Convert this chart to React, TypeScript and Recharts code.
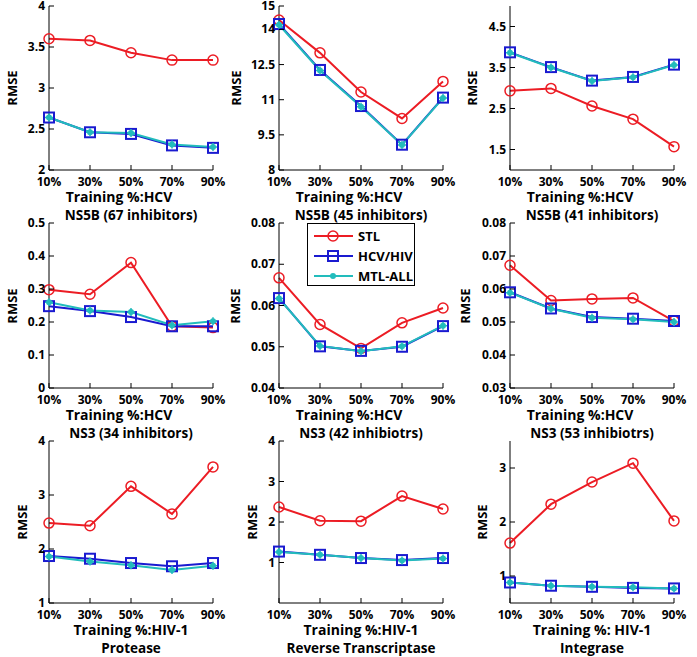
import { LineChart, Line, XAxis, YAxis } from 'recharts';

// training fraction on every x axis
const trainingPct = [10, 30, 50, 70, 90];

// one row per panel, read left→right, top→bottom
const stlRmse = [
  [3.6, 3.58, 3.43, 3.34, 3.34],
  [14.4, 13.0, 11.33, 10.2, 11.78],
  [2.93, 2.99, 2.56, 2.24, 1.57],
  [0.298, 0.284, 0.38, 0.187, 0.183],
  [0.0667, 0.0554, 0.0496, 0.0558, 0.0594],
  [0.0672, 0.0565, 0.057, 0.0573, 0.0503],
  [2.48, 2.43, 3.16, 2.65, 3.52],
  [2.37, 2.03, 2.02, 2.64, 2.32],
  [1.61, 2.33, 2.74, 3.09, 2.02],
];
const hcvHivRmse = [
  [2.64, 2.46, 2.44, 2.3, 2.27],
  [14.23, 12.27, 10.73, 9.08, 11.09],
  [3.87, 3.51, 3.18, 3.27, 3.57],
  [0.248, 0.233, 0.215, 0.187, 0.187],
  [0.0618, 0.0501, 0.049, 0.05, 0.055],
  [0.059, 0.0541, 0.0515, 0.051, 0.0503],
  [1.87, 1.82, 1.74, 1.68, 1.74],
  [1.27, 1.19, 1.11, 1.06, 1.11],
  [0.88, 0.82, 0.8, 0.78, 0.77],
];
const mtlAllRmse = [
  [2.64, 2.46, 2.45, 2.31, 2.28],
  [14.2, 12.25, 10.7, 9.07, 11.07],
  [3.86, 3.5, 3.17, 3.26, 3.56],
  [0.26, 0.235, 0.23, 0.19, 0.202],
  [0.0617, 0.0502, 0.0489, 0.0501, 0.0551],
  [0.0589, 0.054, 0.0513, 0.0508, 0.05],
  [1.86, 1.77, 1.7, 1.61, 1.69],
  [1.26, 1.19, 1.11, 1.05, 1.1],
  [0.88, 0.82, 0.8, 0.79, 0.77],
];

const panelTitles = [
  'NS5B (67 inhibitors)', 'NS5B (45 inhibitors)', 'NS5B (41 inhibitors)',
  'NS3 (34 inhibitors)', 'NS3 (42 inhibiotrs)', 'NS3 (53 inhibiotrs)',
  'Protease', 'Reverse Transcriptase', 'Integrase',
];
const xAxisLabels = [
  'Training %:HCV', 'Training %:HCV', 'Training %:HCV',
  'Training %:HCV', 'Training %:HCV', 'Training %:HCV',
  'Training %:HIV-1', 'Training %:HIV-1', 'Training %: HIV-1',
];
const yDomains = [
  [2, 4], [8, 15], [1, 5],
  [0, 0.5], [0.04, 0.08], [0.03, 0.08],
  [1, 4], [0, 4], [0.5, 3.5],
];
const yTicks = [
  [2, 2.5, 3, 3.5, 4], [8, 9.5, 11, 12.5, 14, 15], [1.5, 2.5, 3.5, 4.5],
  [0, 0.1, 0.2, 0.3, 0.4, 0.5], [0.04, 0.05, 0.06, 0.07, 0.08], [0.03, 0.04, 0.05, 0.06, 0.07, 0.08],
  [1, 2, 3, 4], [1, 2, 3, 4], [1, 2, 3],
];

const COL_X = [49, 279, 510];
const ROW_Y = [6, 223, 441];
const ROW_H = [164, 165, 162];
const BOX_W = 164;
const YLABEL_GAP = [37, 43, 38, 37, 44, 45, 27, 27, 28];
const XLABEL_SHIFT = [-12, -12, -12, -12, -12, -12, 0, 0, 0];

const RED = '#ec1c24';
const BLUE = '#1a1ad0';
const CYAN = '#22bcbc';
const FONT = '"Open Sans", "DejaVu Sans", sans-serif';

const ML = 50, MT = 14, MR = 22, MB = 30;

const BottomTick = (p: any) => (
  <g>
    <line x1={p.x} x2={p.x} y1={p.y} y2={p.y - 5} stroke="#000" />
    <text x={p.x} y={p.y + 16} textAnchor="middle" fontSize={12} fontWeight={700} fill="#000" fontFamily={FONT}>
      {p.payload.value}%
    </text>
  </g>
);
const TopTick = (p: any) => <line x1={p.x} x2={p.x} y1={p.y} y2={p.y + 5} stroke="#000" />;
const LeftTick = (p: any) => (
  <g>
    <line x1={p.x} x2={p.x + 5} y1={p.y} y2={p.y} stroke="#000" />
    <text x={p.x - 4} y={p.y + 4} textAnchor="end" fontSize={12} fontWeight={700} fill="#000" fontFamily={FONT}>
      {p.payload.value}
    </text>
  </g>
);
const RightTick = (p: any) => <line x1={p.x} x2={p.x - 5} y1={p.y} y2={p.y} stroke="#000" />;

const SquareDot = (p: any) => (
  <rect key={`sq-${p.index}`} x={p.cx - 5} y={p.cy - 5} width={10} height={10} fill="none" stroke={BLUE} strokeWidth={2} />
);
const StarDot = (p: any) => (
  <g key={`st-${p.index}`}>
    <circle cx={p.cx} cy={p.cy} r={3} fill={CYAN} />
    <path d={`M${p.cx - 4},${p.cy}H${p.cx + 4}M${p.cx},${p.cy - 4}V${p.cy + 4}`} stroke={CYAN} strokeWidth={1.5} />
  </g>
);

const Panel = ({ k }: { k: number }) => {
  const col = k % 3;
  const row = Math.floor(k / 3);
  const bx = COL_X[col];
  const by = ROW_Y[row];
  const bh = ROW_H[row];
  const data = trainingPct.map((pct, i) => ({
    pct,
    stl: stlRmse[k][i],
    hcv: hcvHivRmse[k][i],
    mtl: mtlAllRmse[k][i],
  }));
  const textStyle: any = {
    position: 'absolute', fontFamily: FONT, fontWeight: 700, whiteSpace: 'nowrap', color: '#000',
    transform: 'translate(-50%, -50%)', lineHeight: 1,
  };
  return (
    <>
      <div style={{ position: 'absolute', left: bx - ML, top: by - MT }}>
        <LineChart width={ML + BOX_W + MR} height={MT + bh + MB} data={data} margin={{ top: MT, right: MR, left: 0, bottom: 0 }}>
          <XAxis dataKey="pct" type="number" domain={[10, 90]} ticks={trainingPct} interval={0}
            height={MB} tickSize={0} tickMargin={0} tickLine={false} axisLine={{ stroke: '#000' }} tick={BottomTick} />
          <XAxis xAxisId="top" orientation="top" type="number" domain={[10, 90]} ticks={trainingPct} interval={0}
            height={0} tickSize={0} tickMargin={0} tickLine={false} axisLine={{ stroke: '#000' }} tick={TopTick} />
          <YAxis type="number" domain={yDomains[k]} ticks={yTicks[k]} interval={0} width={ML}
            tickSize={0} tickMargin={0} tickLine={false} axisLine={{ stroke: '#000' }} tick={LeftTick} />
          <YAxis yAxisId="right" orientation="right" type="number" domain={yDomains[k]} ticks={yTicks[k]} interval={0} width={0}
            tickSize={0} tickMargin={0} tickLine={false} axisLine={{ stroke: '#000' }} tick={RightTick} />
          <Line dataKey="stl" stroke={RED} strokeWidth={2} isAnimationActive={false}
            dot={{ r: 5, fill: 'none', stroke: RED, strokeWidth: 1.5 }} />
          <Line dataKey="hcv" stroke={BLUE} strokeWidth={2} isAnimationActive={false} dot={SquareDot} />
          <Line dataKey="mtl" stroke={CYAN} strokeWidth={2} isAnimationActive={false} dot={StarDot} />
        </LineChart>
      </div>
      <div style={{ ...textStyle, left: bx - YLABEL_GAP[k], top: by + bh / 2, fontSize: 13, transform: 'translate(-50%, -50%) rotate(-90deg)' }}>
        RMSE
      </div>
      <div style={{ ...textStyle, left: bx + BOX_W / 2 + XLABEL_SHIFT[k], top: by + bh + 27, fontSize: 14 }}>
        {xAxisLabels[k]}
      </div>
      <div style={{ ...textStyle, left: bx + BOX_W / 2, top: by + bh + 46, fontSize: 13.5 }}>
        {panelTitles[k]}
      </div>
    </>
  );
};

const legendItems = [
  { name: 'STL', color: RED, kind: 'circle' },
  { name: 'HCV/HIV', color: BLUE, kind: 'square' },
  { name: 'MTL-ALL', color: CYAN, kind: 'star' },
];

const LegendBox = () => (
  <svg style={{ position: 'absolute', left: 307, top: 223 }} width={108} height={63}>
    <rect x={0.5} y={0.5} width={107} height={62} fill="#fff" stroke="#000" />
    {legendItems.map((it, i) => {
      const y = 13 + i * 20;
      return (
        <g key={it.name}>
          <line x1={7} x2={46} y1={y} y2={y} stroke={it.color} strokeWidth={2} />
          {it.kind === 'circle' && <circle cx={26} cy={y} r={5} fill="none" stroke={it.color} strokeWidth={1.5} />}
          {it.kind === 'square' && <rect x={21} y={y - 5} width={10} height={10} fill="none" stroke={it.color} strokeWidth={2} />}
          {it.kind === 'star' && <circle cx={26} cy={y} r={3} fill={it.color} />}
          <text x={51} y={y + 5} fontSize={13} fontWeight={700} fontFamily={FONT} fill="#000">{it.name}</text>
        </g>
      );
    })}
  </svg>
);

export default function App() {
  return (
    <div style={{ position: 'absolute', left: 0, top: 0, width: 697, height: 657, background: '#fff', overflow: 'hidden' }}>
      {stlRmse.map((_, k) => <Panel key={k} k={k} />)}
      <LegendBox />
    </div>
  );
}
